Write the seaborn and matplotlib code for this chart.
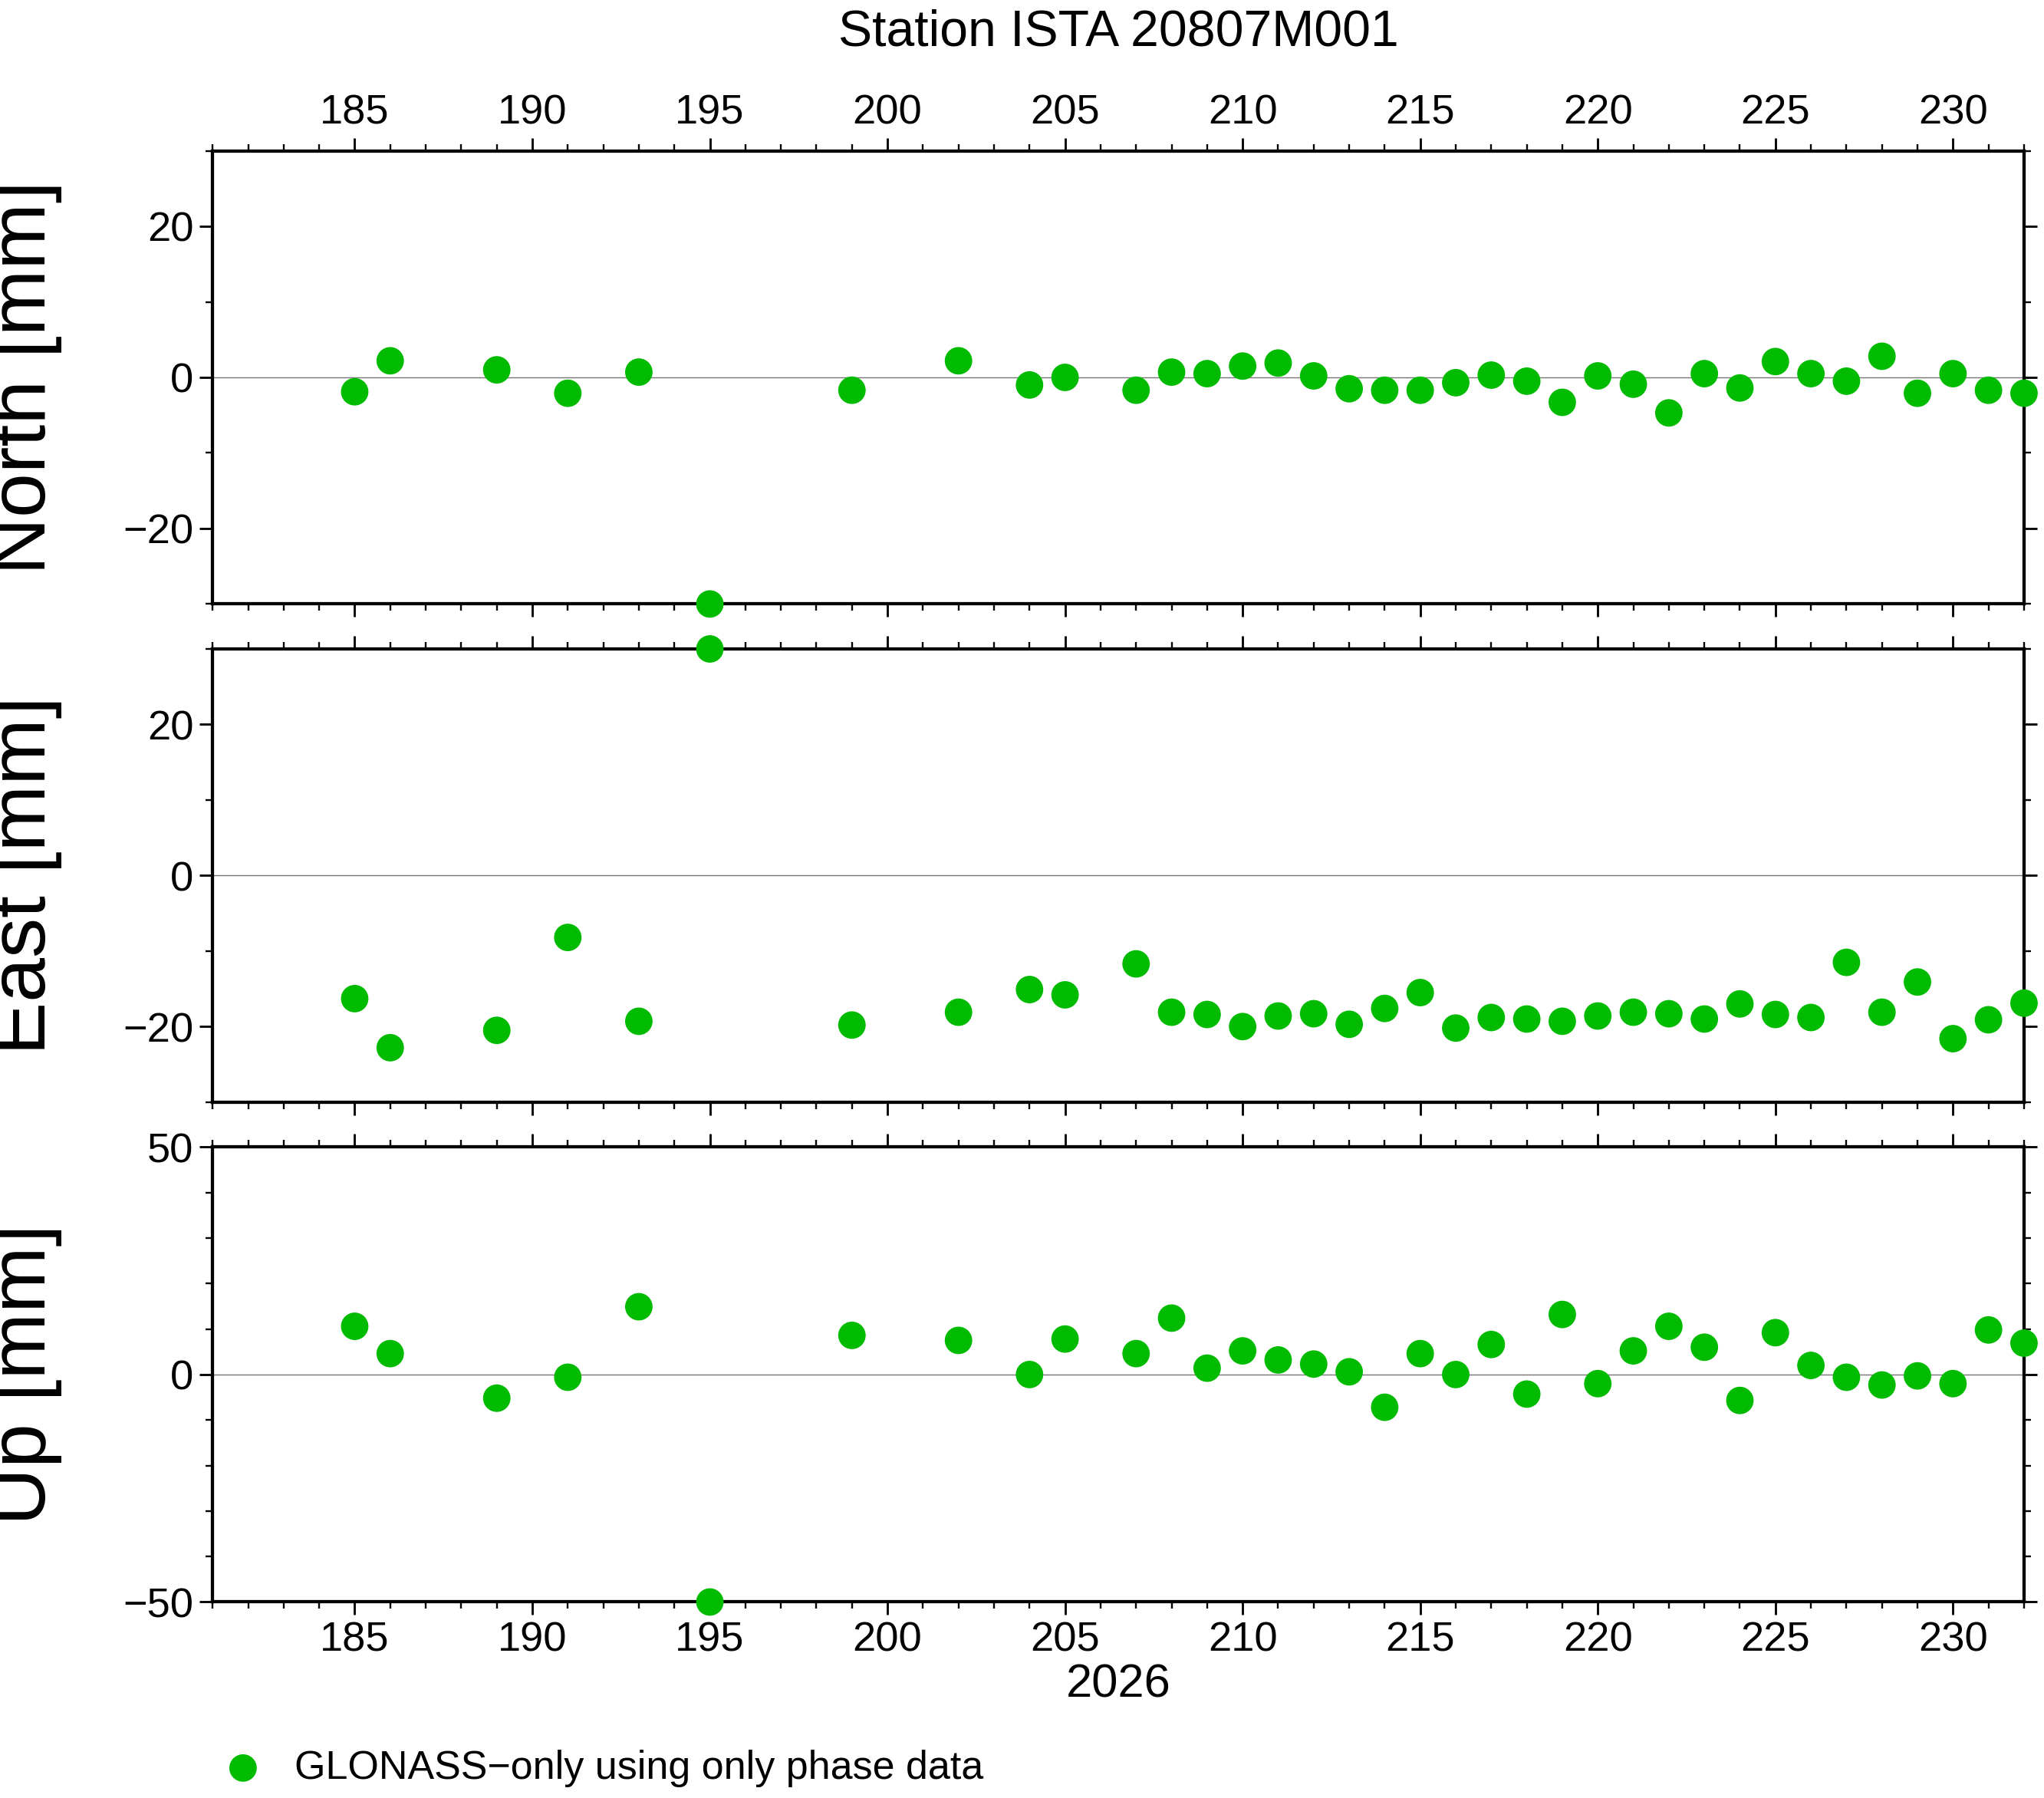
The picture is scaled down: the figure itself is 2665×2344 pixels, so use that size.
import matplotlib
matplotlib.use("Agg")
import matplotlib.pyplot as plt
import seaborn as sns
import pandas as pd
from matplotlib.ticker import MultipleLocator

days = [185,186,189,191,193,195,199,202,204,205,207,208,209,210,211,212,213,214,215,216,217,218,219,220,221,222,223,224,225,226,227,228,229,230,231,232]
north = [-1.9,2.2,1.0,-2.1,0.7,-30,-1.7,2.2,-1.0,0.0,-1.7,0.7,0.5,1.5,1.9,0.2,-1.5,-1.7,-1.7,-0.7,0.3,-0.5,-3.3,0.2,-0.9,-4.7,0.5,-1.4,2.1,0.5,-0.5,2.8,-2.1,0.5,-1.7,-2.1]
east = [-16.3,-22.8,-20.5,-8.2,-19.3,30,-19.8,-18.1,-15.1,-15.8,-11.7,-18.1,-18.4,-20.0,-18.6,-18.3,-19.7,-17.6,-15.5,-20.2,-18.8,-19.0,-19.3,-18.6,-18.1,-18.3,-19.0,-17.0,-18.4,-18.8,-11.5,-18.1,-14.1,-21.6,-19.1,-16.9]
up = [10.6,4.6,-5.2,-0.6,14.9,-50,8.6,7.5,0.0,7.8,4.6,12.4,1.4,5.2,3.2,2.3,0.6,-7.2,4.6,0.0,6.6,-4.3,13.2,-2.0,5.2,10.6,6.0,-5.7,9.2,2.0,-0.6,-2.3,-0.3,-2.0,9.8,6.9]

sns.set_style("white")
plt.rcParams['font.family'] = ['Liberation Sans', 'DejaVu Sans']
plt.rcParams['text.color'] = 'black'
plt.rcParams['axes.labelcolor'] = 'black'
plt.rcParams['xtick.color'] = 'black'
plt.rcParams['ytick.color'] = 'black'
plt.rcParams['axes.edgecolor'] = 'black'

df = pd.DataFrame({"day": days, "North": north, "East": east, "Up": up})
color = "#00bb00"
fig = plt.figure(figsize=(15.68, 13.79), dpi=170)
L, R = 0.104, 0.990
specs = [("North", 0.664, 0.916, (-30, 30), 20, 10),
         ("East", 0.387, 0.639, (-30, 30), 20, 10),
         ("Up", 0.109, 0.362, (-50, 50), 50, 10)]
for i, (name, b, t, yl, maj, mnr) in enumerate(specs):
    ax = fig.add_axes([L, b, R - L, t - b])
    ax.axhline(0, color="#777777", lw=0.6, zorder=1)
    sns.scatterplot(data=df, x="day", y=name, ax=ax, color=color, s=230,
                    edgecolor="none", clip_on=False, zorder=3,
                    label="GLONASS\u2212only using only phase data" if i == 2 else None)
    ax.set_xlim(181, 232)
    ax.set_ylim(*yl)
    ax.xaxis.set_major_locator(MultipleLocator(5))
    ax.xaxis.set_minor_locator(MultipleLocator(1))
    ax.yaxis.set_major_locator(MultipleLocator(maj))
    ax.yaxis.set_minor_locator(MultipleLocator(mnr))
    ax.tick_params(which="major", direction="out", length=7, width=1.2, labelsize=23,
                   top=True, bottom=True, left=True, right=True,
                   labeltop=(i == 0), labelbottom=(i == 2), labelright=False)
    ax.tick_params(which="minor", direction="out", length=4, width=1.0,
                   top=True, bottom=True, left=True, right=True)
    for s in ax.spines.values():
        s.set_linewidth(1.8)
        s.set_visible(True)
    ax.set_ylabel(f"{name} [mm]", fontsize=44, labelpad=2)
    ax.yaxis.set_label_coords(-0.083, 0.5)
    ax.set_xlabel("2026" if i == 2 else "", fontsize=26, labelpad=2)
    if i == 0:
        ax.set_title("Station ISTA 20807M001", fontsize=28, pad=58)
    if i == 2:
        leg = ax.legend(loc="upper left", bbox_to_anchor=(-0.025, -0.245), frameon=False,
                        fontsize=22, handletextpad=0.3, markerscale=1.0)
fig.savefig("out.png", dpi=170)
